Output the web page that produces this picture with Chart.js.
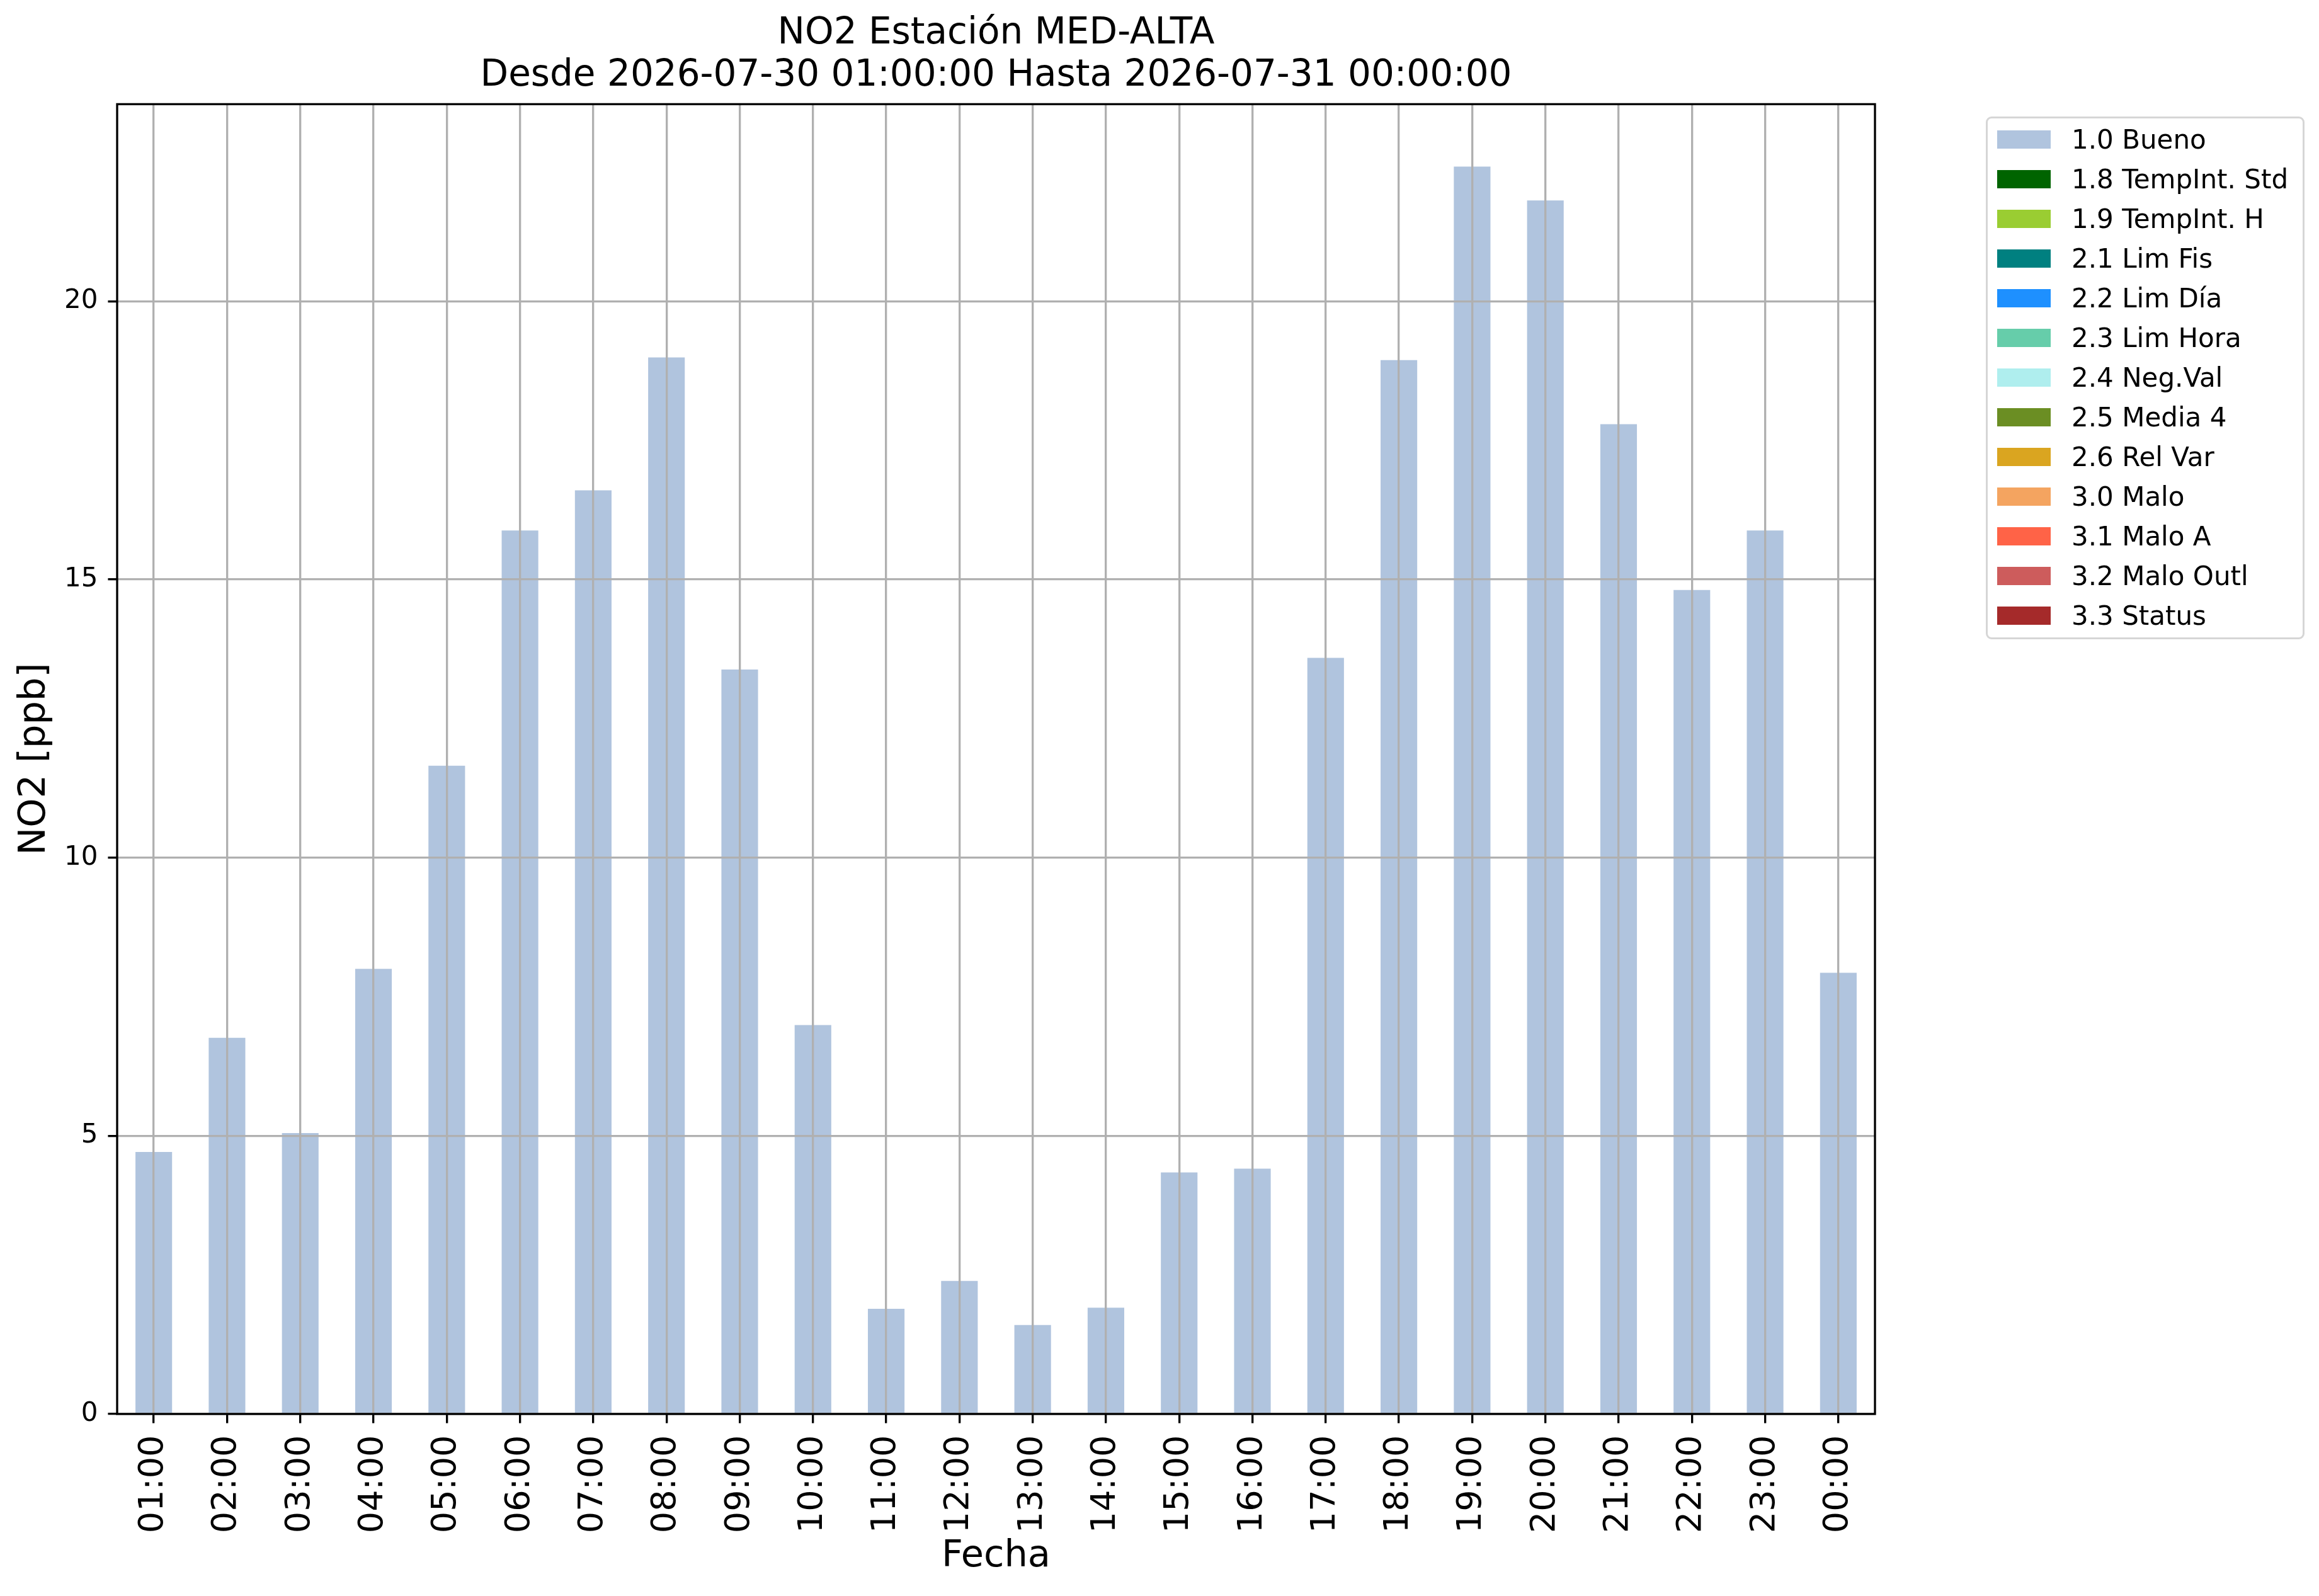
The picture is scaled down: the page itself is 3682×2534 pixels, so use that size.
<!DOCTYPE html>
<html>
<head>
<meta charset="utf-8">
<title>NO2 Estación MED-ALTA</title>
<script src="https://cdn.jsdelivr.net/npm/chart.js@4.4.1/dist/chart.umd.min.js"></script>
<style>
  html, body { margin: 0; padding: 0; background: #fff; }
  #wrap { position: relative; width: 3682px; height: 2534px; }
  #legend {
    position: absolute; left: 3153px; top: 185px; width: 506px;
    box-sizing: border-box; border: 3px solid #d6d6d6; border-radius: 9px;
    padding: 12px 0 14px 0; background: rgba(255, 255, 255, 0.8);
    font-family: 'DejaVu Sans'; font-size: 42px; color: #000;
  }
  .item { display: flex; align-items: center; height: 42px; margin-bottom: 21px; white-space: nowrap; }
  .item:last-child { margin-bottom: 0; }
  .sw { width: 85px; height: 29px; margin-left: 15px; margin-right: 33px; flex: none; }
</style>
</head>
<body>
<div id="wrap">
  <canvas id="chart" width="3682" height="2534"></canvas>
  <div id="legend"></div>
</div>
<script>
// horas del periodo (30/07 01:00 -> 31/07 00:00)
const horas = ['01:00', '02:00', '03:00', '04:00', '05:00', '06:00', '07:00', '08:00',
  '09:00', '10:00', '11:00', '12:00', '13:00', '14:00', '15:00', '16:00',
  '17:00', '18:00', '19:00', '20:00', '21:00', '22:00', '23:00', '00:00']

// NO2 [ppb] con flag 1.0 Bueno
const bueno = [4.71, 6.76, 5.05, 8.00, 11.65, 15.88, 16.60, 18.99,
  13.38, 6.99, 1.89, 2.39, 1.60, 1.91, 4.34, 4.41,
  13.59, 18.94, 22.42, 21.81, 17.79, 14.81, 15.88, 7.93]

// resto de flags: sin datos en este periodo
const tempIntStd = []
const tempIntH = []
const limFis = []
const limDia = []
const limHora = []
const negVal = []
const media4 = []
const relVar = []
const malo = []
const maloA = []
const maloOutl = []
const status = []

const flagLabels = ['1.0 Bueno', '1.8 TempInt. Std', '1.9 TempInt. H', '2.1 Lim Fis', '2.2 Lim Día',
  '2.3 Lim Hora', '2.4 Neg.Val', '2.5 Media 4', '2.6 Rel Var', '3.0 Malo', '3.1 Malo A',
  '3.2 Malo Outl', '3.3 Status']
const flagColors = ['#b0c4de', '#006400', '#9acd32', '#008080', '#1e90ff', '#66cdaa', '#afeeee',
  '#6b8e23', '#daa520', '#f4a460', '#ff6347', '#cd5c5c', '#a52a2a']
const flagValues = [bueno, tempIntStd, tempIntH, limFis, limDia, limHora, negVal, media4,
  relVar, malo, maloA, maloOutl, status]

const yTicks = [0, 5, 10, 15, 20]

const PT = 300 / 72 // matplotlib points -> px at 300 dpi

Chart.defaults.font.family = "'DejaVu Sans'"
Chart.defaults.color = '#000'

// marco de los ejes (spines)
const spines = {
  id: 'spines',
  afterDraw (chart) {
    const { ctx, chartArea: a } = chart
    ctx.save()
    ctx.strokeStyle = '#000'
    ctx.lineWidth = 0.8 * PT
    ctx.strokeRect(a.left, a.top, a.right - a.left, a.bottom - a.top)
    ctx.restore()
  }
}

const chart = new Chart(document.getElementById('chart'), {
  type: 'bar',
  data: {
    labels: horas,
    datasets: flagLabels.map((label, i) => ({
      label,
      data: flagValues[i],
      backgroundColor: flagColors[i],
      borderWidth: 0,
      barPercentage: 0.5,
      categoryPercentage: 1
    }))
  },
  options: {
    responsive: false,
    animation: false,
    layout: { padding: { left: 0, top: 0, right: 705, bottom: 0 } },
    plugins: {
      legend: { display: false },
      tooltip: { enabled: false },
      title: {
        display: true,
        fullSize: false,
        text: ['NO2 Estación MED-ALTA', 'Desde 2026-07-30 01:00:00 Hasta 2026-07-31 00:00:00'],
        font: { size: 58, weight: 'normal', lineHeight: 1.15 },
        color: '#000',
        padding: { top: 21, bottom: 11 }
      }
    },
    scales: {
      x: {
        stacked: true,
        offset: true,
        afterFit: (scale) => { scale.height = 289 },
        grid: {
          offset: false,
          z: 1,
          color: '#b0b0b0',
          lineWidth: 0.8 * PT,
          tickLength: 3.5 * PT,
          tickColor: '#000',
          tickWidth: 0.8 * PT
        },
        border: { display: false },
        ticks: {
          autoSkip: false,
          minRotation: 90,
          maxRotation: 90,
          padding: 19,
          font: { size: 54 }
        },
        title: {
          display: true,
          text: 'Fecha',
          font: { size: 59, lineHeight: 1.2 },
          padding: { top: 0, bottom: 27 }
        }
      },
      y: {
        stacked: true,
        min: 0,
        max: Math.max(...bueno) * 1.05,
        afterFit: (scale) => { scale.width = 186 },
        afterBuildTicks: (scale) => { scale.ticks = yTicks.map(v => ({ value: v })) },
        grid: {
          z: 1,
          color: '#b0b0b0',
          lineWidth: 0.8 * PT,
          tickLength: 3.5 * PT,
          tickColor: '#000',
          tickWidth: 0.8 * PT
        },
        border: { display: false },
        ticks: {
          padding: 16,
          font: { size: 42 }
        },
        title: {
          display: true,
          text: 'NO2 [ppb]',
          font: { size: 59, lineHeight: 1.2 },
          padding: { top: 20, bottom: 0 }
        }
      }
    }
  },
  plugins: [spines]
})

// leyenda a partir de los datasets del gráfico
const legendBox = document.getElementById('legend')
chart.data.datasets.forEach((ds) => {
  const row = document.createElement('div')
  row.className = 'item'
  const sw = document.createElement('span')
  sw.className = 'sw'
  sw.style.background = ds.backgroundColor
  const txt = document.createElement('span')
  txt.textContent = ds.label
  row.appendChild(sw)
  row.appendChild(txt)
  legendBox.appendChild(row)
})
</script>
</body>
</html>
